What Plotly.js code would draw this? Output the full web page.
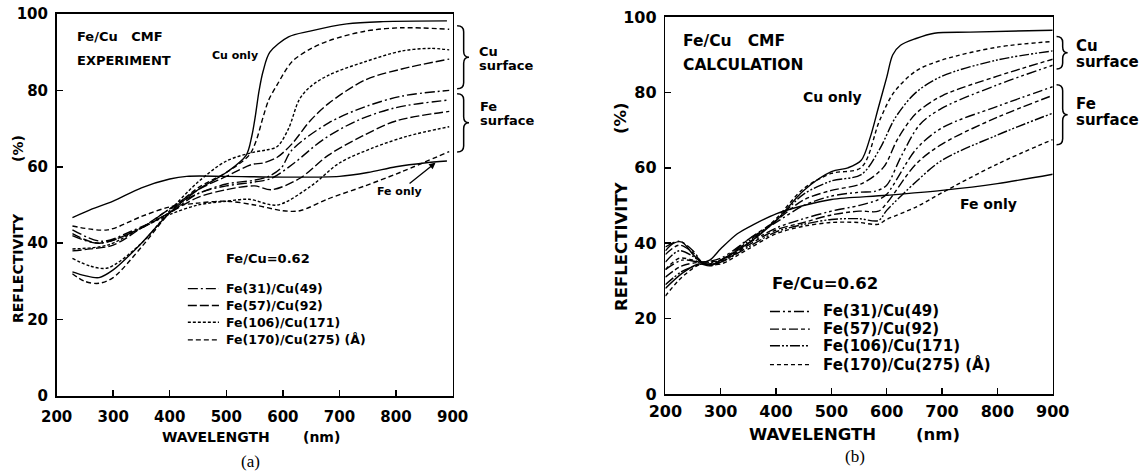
<!DOCTYPE html>
<html><head><meta charset="utf-8">
<script src="https://cdn.plot.ly/plotly-3.0.1.min.js"></script>
<style>html,body{margin:0;padding:0;background:#fff}#chart{width:1139px;height:471px}</style>
</head><body><div id="chart"></div>
<script>
// ---------- Panel (a): EXPERIMENT ----------
const cuOnlyA_x = [228, 250, 275, 300, 350, 400, 450, 500, 535, 545, 551, 558, 565, 577, 610, 648, 713, 777, 890];
const cuOnlyA_y = [32.5, 31.5, 31, 33, 40, 48, 54, 58.5, 63, 68, 73, 80, 85, 90, 94, 95.5, 97.4, 98, 98.2];
const feOnlyA_x = [228, 260, 300, 350, 400, 430, 500, 600, 700, 750, 800, 850, 890];
const feOnlyA_y = [46.7, 48.8, 51, 54.5, 56.8, 57.5, 57.5, 57.3, 57.5, 58.5, 60, 61, 61.5];
// Cu-surface multilayers
const c170A_x = [228, 250, 275, 300, 350, 400, 450, 500, 540, 552, 565, 575, 590, 616, 648, 681, 745, 810, 894];
const c170A_y = [32, 30, 29.5, 31, 39, 48, 54.5, 58.5, 63, 66.5, 73, 77.5, 81.5, 87.5, 90.8, 93, 95.5, 96.4, 96];
const c106A_x = [228, 260, 290, 350, 400, 450, 500, 551, 571, 590, 610, 629, 648, 681, 745, 810, 861, 894];
const c106A_y = [36, 34, 33.5, 40, 48.5, 56, 61.5, 63.9, 64.4, 65.3, 70, 77.6, 80.9, 84, 87.5, 90.3, 91, 90.6];
const c57A_x = [228, 260, 300, 350, 400, 450, 500, 545, 565, 590, 616, 648, 681, 745, 810, 894];
const c57A_y = [38, 38.5, 39.5, 44, 49, 54, 57.5, 60.6, 61, 62.5, 66, 72, 76.6, 82.7, 85.6, 88.2];
const c31A_x = [228, 275, 350, 400, 450, 500, 550, 575, 597, 616, 681, 745, 810, 894];
const c31A_y = [42, 40, 44, 49, 53, 55.5, 56.5, 57.5, 59.7, 64.4, 71.5, 75.7, 78.5, 80];
// Fe-surface multilayers
const f31A_x = [228, 280, 330, 400, 450, 500, 550, 580, 620, 670, 730, 800, 894];
const f31A_y = [43.5, 40.5, 43, 48, 53, 55, 56, 57, 61, 67, 72, 75.5, 77.5];
const f57A_x = [228, 275, 350, 400, 450, 500, 550, 580, 630, 680, 740, 800, 894];
const f57A_y = [42.5, 40, 44, 48, 52, 54, 55, 54, 57, 63, 68, 72, 74.5];
const f106A_x = [228, 290, 350, 400, 450, 500, 540, 590, 650, 700, 760, 820, 894];
const f106A_y = [38.5, 39.5, 44, 47.5, 50, 51, 51.5, 50, 55, 61, 65, 68, 70.5];
const f170A_x = [228, 290, 350, 400, 450, 500, 550, 600, 630, 680, 745, 810, 894];
const f170A_y = [44.5, 43.5, 47, 49.5, 50.5, 51, 50, 48.5, 48.5, 51.6, 55, 58.7, 64];

// ---------- Panel (b): CALCULATION ----------
const cuOnlyB_x = [200, 230, 260, 280, 300, 350, 400, 450, 500, 530, 554, 570, 585, 600, 611, 625, 653, 686, 751, 900];
const cuOnlyB_y = [28, 32, 34.5, 34, 35.5, 40, 46, 54, 59, 60, 62, 68, 76, 84, 90, 92.5, 94.3, 95.7, 96, 96.5];
const feOnlyB_x = [200, 215, 230, 250, 265, 280, 300, 330, 360, 400, 450, 500, 600, 700, 800, 900];
const feOnlyB_y = [38, 40, 40.3, 37, 35, 35.5, 38.5, 42.5, 45, 47.8, 50, 51.6, 52.7, 54, 55.8, 58.3];
const c170B_x = [200, 230, 265, 285, 300, 350, 400, 450, 500, 554, 587, 613, 653, 700, 800, 900];
const c170B_y = [26, 31, 34.5, 34, 35, 40, 46.5, 54.5, 58.5, 60.1, 72.5, 80, 85.7, 88.6, 92, 93.5];
const c106B_x = [200, 230, 265, 300, 350, 400, 450, 500, 554, 587, 616, 653, 700, 800, 900];
const c106B_y = [29, 32.5, 34.5, 35.5, 40.5, 46, 53, 56.5, 58.2, 64.9, 73.4, 80, 84.3, 88.6, 91];
const c57B_x = [200, 230, 265, 300, 350, 400, 450, 500, 555, 594, 620, 653, 700, 800, 900];
const c57B_y = [31, 34, 35, 35.5, 41, 46, 51.5, 54, 55.8, 60.1, 67.7, 74.4, 79.1, 84.3, 88.8];
const c31B_x = [200, 230, 265, 300, 350, 400, 450, 500, 550, 580, 600, 626, 660, 700, 800, 900];
const c31B_y = [33, 35.5, 35, 36, 41, 45.5, 50, 52.5, 53.5, 53.8, 55.4, 63, 71.5, 75.8, 82, 87.2];
const f31B_x = [200, 225, 250, 270, 300, 350, 400, 450, 500, 550, 584, 600, 653, 700, 800, 900];
const f31B_y = [39, 40.5, 38, 34.5, 35.5, 40, 44, 46.5, 48.5, 50, 51.5, 53, 64.9, 70.6, 76.3, 81.5];
const f57B_x = [200, 225, 250, 270, 300, 350, 400, 450, 500, 550, 585, 600, 653, 700, 800, 900];
const f57B_y = [37, 39.5, 37.5, 34.5, 35, 39.5, 43.5, 45.5, 47.5, 48.5, 48.5, 50.6, 61, 66.3, 73.4, 79.2];
const f106B_x = [200, 225, 250, 270, 300, 350, 400, 450, 500, 550, 585, 600, 653, 700, 800, 900];
const f106B_y = [35, 38, 36.5, 34.5, 35, 39, 43, 45, 46.3, 46.5, 46, 48.7, 56.3, 62, 68.7, 74.5];
const f170B_x = [200, 225, 250, 270, 300, 350, 400, 450, 500, 550, 584, 600, 653, 700, 800, 900];
const f170B_y = [33, 36, 35.5, 34.5, 34.5, 38.5, 42.5, 44.5, 45.5, 45.5, 45, 46.3, 49.6, 53.4, 61, 67.5];

// legend labels & tick labels
const legendLabels = ['Fe(31)/Cu(49)', 'Fe(57)/Cu(92)', 'Fe(106)/Cu(171)', 'Fe(170)/Cu(275) (\u00C5)'];
const xTicks = [200, 300, 400, 500, 600, 700, 800, 900];
const yTicks = [0, 20, 40, 60, 80, 100];

// ---------- styles / geometry ----------
const dashA = ['10px,3px,2px,3px', '9px,3px', '3px,2px', '5px,3px'];
const dashB = ['10px,3px,2px,3px,3px,3px', '9px,3px,4px,3px', '10px,2px,2px,2px,2px,2px', '4px,3px'];
const FONT = 'DejaVu Sans';
const W = 1139, H = 471;
const GA = {l: 56.6, r: 452.6, t: 14, b: 396};
const GB = {l: 665.4, r: 1052.7, t: 17, b: 394};
const px = v => v / W, py = v => 1 - v / H;
// data -> pixel for a panel geometry (used only for decorations / text placement)
const dX = (G, nm) => G.l + (nm - 200) / 700 * (G.r - G.l);
const dY = (G, pc) => G.b - pc / 100 * (G.b - G.t);

const curvesA = [
  [cuOnlyA_x, cuOnlyA_y, 'solid'], [feOnlyA_x, feOnlyA_y, 'solid'],
  [c31A_x, c31A_y, dashA[0]], [c57A_x, c57A_y, dashA[1]], [c106A_x, c106A_y, dashA[2]], [c170A_x, c170A_y, dashA[3]],
  [f31A_x, f31A_y, dashA[0]], [f57A_x, f57A_y, dashA[1]], [f106A_x, f106A_y, dashA[2]], [f170A_x, f170A_y, dashA[3]]
];
const curvesB = [
  [cuOnlyB_x, cuOnlyB_y, 'solid'], [feOnlyB_x, feOnlyB_y, 'solid'],
  [c31B_x, c31B_y, dashB[0]], [c57B_x, c57B_y, dashB[1]], [c106B_x, c106B_y, dashB[2]], [c170B_x, c170B_y, dashB[3]],
  [f31B_x, f31B_y, dashB[0]], [f57B_x, f57B_y, dashB[1]], [f106B_x, f106B_y, dashB[2]], [f170B_x, f170B_y, dashB[3]]
];
const traces = [];
curvesA.forEach(c => traces.push({x: c[0], y: c[1], xaxis: 'x', yaxis: 'y', mode: 'lines',
  line: {color: '#000', width: 1.4, dash: c[2], shape: 'spline', smoothing: 0.9}, hoverinfo: 'skip', showlegend: false}));
curvesB.forEach(c => traces.push({x: c[0], y: c[1], xaxis: 'x2', yaxis: 'y2', mode: 'lines',
  line: {color: '#000', width: 1.4, dash: c[2], shape: 'spline', smoothing: 0.9}, hoverinfo: 'skip', showlegend: false}));

function axis(G, isX, range, ticks, fs, standoff, anchor) {
  const dom = isX ? [G.l / W, G.r / W] : [1 - G.b / H, 1 - G.t / H];
  return {domain: dom, range: range, tickmode: 'array', tickvals: ticks, ticktext: ticks.map(String),
    ticks: 'inside', ticklen: 6, tickwidth: 1.5, tickcolor: '#000', showline: true, mirror: true,
    linecolor: '#000', linewidth: 1.6, showgrid: false, zeroline: false, anchor: anchor,
    tickfont: {family: FONT, size: fs, color: '#000', weight: 'bold'}, ticklabelstandoff: standoff, fixedrange: true};
}

const ann = [];
function txt(t, x, y, size, opts) {
  ann.push(Object.assign({text: t, x: px(x), y: py(y), xref: 'paper', yref: 'paper', showarrow: false,
    xanchor: 'left', yanchor: 'middle', font: {family: FONT, size: size, color: '#000', weight: 'bold'}}, opts || {}));
}
// text placed at a data position of a panel
const dtxt = (G, t, nm, pc, size, opts) => txt(t, dX(G, nm), dY(G, pc), size, opts);
const sp = '\u00A0\u00A0\u00A0';
const legRowsA = [28.1, 23.7, 19.3, 14.7];
const legRowsB = [21.9, 17.2, 12.8, 7.8];

// panel a texts
dtxt(GA, 'Fe/Cu' + sp + 'CMF', 232.5, 94.1, 13);
dtxt(GA, 'EXPERIMENT', 232.5, 87.9, 13);
dtxt(GA, 'Cu only', 471, 89.2, 11);
dtxt(GA, 'Cu', 943, 90.2, 13); dtxt(GA, 'surface', 943, 86.6, 13);
dtxt(GA, 'Fe', 945, 75.8, 13); dtxt(GA, 'surface', 945, 72.2, 13);
dtxt(GA, 'Fe/Cu=0.62', 496, 36.1, 13);
legendLabels.forEach((l, i) => dtxt(GA, l, 496, legRowsA[i], 12.5));
txt('WAVELENGTH', 160, 437, 14); txt('(nm)', 301, 437, 14);
txt('REFLECTIVITY', 18, 268, 14, {xanchor: 'center', textangle: -90});
txt('(%)', 18, 149, 14, {xanchor: 'center', textangle: -90});
txt('(a)', 250, 461, 17, {xanchor: 'center', font: {family: 'Liberation Serif', size: 17, color: '#000'}});
ann.push({text: 'Fe only', x: 870, y: 61.1, xref: 'x', yref: 'y', ax: -36, ay: 29, showarrow: true,
  arrowhead: 2, arrowsize: 1, arrowwidth: 1.3, arrowcolor: '#000', font: {family: FONT, size: 11, color: '#000', weight: 'bold'}});
// panel b texts
dtxt(GB, 'Fe/Cu' + sp + 'CMF', 228, 93.75, 15.5);
dtxt(GB, 'CALCULATION', 228, 87.2, 15.5);
dtxt(GB, 'Cu only', 445, 78.9, 14);
dtxt(GB, 'Cu', 938.5, 92.4, 15); dtxt(GB, 'surface', 938.5, 88.0, 15);
dtxt(GB, 'Fe', 938.5, 76.8, 15); dtxt(GB, 'surface', 938.5, 72.7, 15);
dtxt(GB, 'Fe only', 729, 50.3, 14);
dtxt(GB, 'Fe/Cu=0.62', 389, 29.4, 16.5);
legendLabels.forEach((l, i) => dtxt(GB, l, 481, legRowsB[i], 15));
txt('WAVELENGTH', 747, 434, 16.5); txt('(nm)', 914, 434, 16.5);
txt('REFLECTIVITY', 621, 246, 16.5, {xanchor: 'center', textangle: -90});
txt('(%)', 621, 118, 16.5, {xanchor: 'center', textangle: -90});
txt('(b)', 855, 456, 17, {xanchor: 'center', font: {family: 'Liberation Serif', size: 17, color: '#000'}});

// braces and legend samples
const shapes = [];
function brace(G, nm0, nm1, pTop, pBot) {
  const x0 = dX(G, nm0), w = dX(G, nm1) - x0, yt = dY(G, pTop), yb = dY(G, pBot);
  const ym = (yt + yb) / 2, r = 6, x1 = x0 + w * 0.55, x2 = x0 + w;
  const P = (x, y) => px(x).toFixed(5) + ',' + py(y).toFixed(5);
  const d = 'M' + P(x0, yt) + ' Q' + P(x1, yt) + ' ' + P(x1, yt + r) + ' L' + P(x1, ym - r) +
    ' Q' + P(x1, ym) + ' ' + P(x2, ym) + ' Q' + P(x1, ym) + ' ' + P(x1, ym + r) +
    ' L' + P(x1, yb - r) + ' Q' + P(x1, yb) + ' ' + P(x0, yb);
  shapes.push({type: 'path', xref: 'paper', yref: 'paper', path: d, line: {color: '#000', width: 1.5}});
}
brace(GA, 908, 929, 96.9, 80.4); brace(GA, 908, 929, 79.1, 63.9);
brace(GB, 907, 927, 94.8, 86.2); brace(GB, 907, 927, 82.0, 66.1);
legRowsA.forEach((r, i) => shapes.push({type: 'line', xref: 'paper', yref: 'paper',
  x0: px(dX(GA, 432)), x1: px(dX(GA, 487)), y0: py(dY(GA, r)), y1: py(dY(GA, r)), line: {color: '#000', width: 1.4, dash: dashA[i]}}));
legRowsB.forEach((r, i) => shapes.push({type: 'line', xref: 'paper', yref: 'paper',
  x0: px(dX(GB, 389)), x1: px(dX(GB, 461)), y0: py(dY(GB, r)), y1: py(dY(GB, r)), line: {color: '#000', width: 1.4, dash: dashB[i]}}));

const layout = {
  width: W, height: H, margin: {l: 0, r: 0, t: 0, b: 0}, paper_bgcolor: '#fff', plot_bgcolor: '#fff',
  showlegend: false,
  xaxis: axis(GA, true, [200, 900], xTicks, 15, 6, 'y'),
  yaxis: axis(GA, false, [0, 100], yTicks, 15, 4, 'x'),
  xaxis2: axis(GB, true, [200, 900], xTicks, 16, 2, 'y2'),
  yaxis2: axis(GB, false, [0, 100], yTicks, 16, 4, 'x2'),
  annotations: ann, shapes: shapes
};
Plotly.newPlot('chart', traces, layout, {displayModeBar: false, staticPlot: true});
</script></body></html>
